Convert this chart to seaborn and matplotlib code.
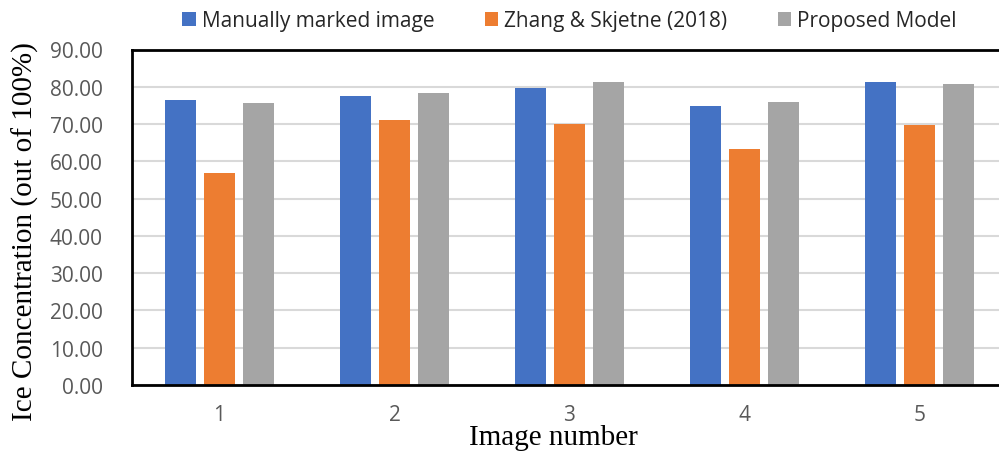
import matplotlib
matplotlib.use("Agg")
import matplotlib.pyplot as plt
import seaborn as sns
import pandas as pd
from matplotlib.ticker import FuncFormatter, MultipleLocator

# Ice concentration per test image for each method
images = ["1", "2", "3", "4", "5"]
manual = [76.5, 77.5, 79.8, 74.8, 81.4]
zhang_skjetne = [56.8, 71.0, 70.0, 63.4, 69.8]
proposed = [75.6, 78.4, 81.2, 75.8, 80.7]
series_names = ["Manually marked image", "Zhang & Skjetne (2018)", "Proposed Model"]
palette = ["#4472C4", "#ED7D31", "#A5A5A5"]

df = pd.DataFrame({
    "image": images * 3,
    "value": manual + zhang_skjetne + proposed,
    "method": [series_names[0]] * 5 + [series_names[1]] * 5 + [series_names[2]] * 5,
})

sns.set_theme(style="white")
plt.rcParams["font.family"] = ["Open Sans", "DejaVu Sans"]

fig = plt.figure(figsize=(9.99, 4.56), dpi=100)
ax = fig.add_axes([132 / 999, 70 / 456, 875 / 999, 335.5 / 456])

sns.barplot(data=df, x="image", y="value", hue="method", palette=palette,
            width=0.67, gap=0.2, ax=ax, saturation=1, linewidth=0)

ax.set_ylim(0, 90)
ax.set_xlim(-0.5, 4.5)
ax.yaxis.set_major_locator(MultipleLocator(10))
ax.yaxis.set_major_formatter(FuncFormatter(lambda v, p: f"{v:.2f}"))
ax.grid(axis="y", color="#D9D9D9", linewidth=1.5)
ax.set_axisbelow(True)

for side in ["left", "bottom", "top"]:
    ax.spines[side].set_visible(True)
    ax.spines[side].set_color("black")
    ax.spines[side].set_linewidth(2)
ax.spines["right"].set_visible(False)

ax.tick_params(axis="both", length=0, labelsize=15, colors="#595959")
ax.tick_params(axis="y", pad=21)
ax.tick_params(axis="x", pad=14)

ax.set_ylabel("Ice Concentration (out of 100%)", fontsize=21,
              family="Liberation Serif", color="black")
ax.yaxis.label.set_va("center")
ax.yaxis.set_label_coords(-0.122, 0.459)
ax.set_xlabel("Image number", fontsize=21, family="Liberation Serif",
              color="black")
ax.xaxis.label.set_va("center")
ax.xaxis.set_label_coords((553 - 132) / 875, -0.155)

ax.legend(loc="center", bbox_to_anchor=(0.5, 1 + 29 / 335.5), ncol=3, frameon=False,
          fontsize=15, handlelength=0.65, handleheight=0.65, handletextpad=0.3,
          columnspacing=2.4, borderaxespad=0)

fig.savefig("out.png", dpi=100)
